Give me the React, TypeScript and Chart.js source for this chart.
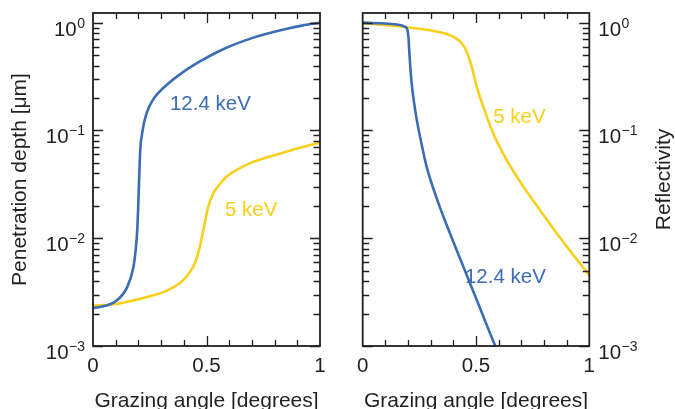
import { useEffect, useRef } from 'react';
import { Chart, registerables } from 'chart.js';

Chart.register(...registerables);

const FONT = '"Liberation Sans", Arial, Helvetica, sans-serif';
const INK = '#231f20';
const BLUE = '#3b6cb4';
const YELLOW = '#f8d01c';

// Penetration depth [µm] against grazing angle [degrees]
const DEPTH_12_ANGLE = [0, 0.05, 0.1, 0.15, 0.178, 0.188, 0.195, 0.2, 0.204, 0.207, 0.21, 0.215, 0.222, 0.232, 0.244, 0.26, 0.28, 0.324, 0.398, 0.471, 0.55, 0.618, 0.7, 0.765, 0.85, 0.92, 1.0];
const DEPTH_12 = [0.00225, 0.00235, 0.0026, 0.0035, 0.0054, 0.0078, 0.012, 0.022, 0.04, 0.058, 0.0748, 0.0895, 0.11, 0.135, 0.16, 0.186, 0.2135, 0.264, 0.349, 0.436, 0.537, 0.622, 0.718, 0.789, 0.874, 0.938, 1.0];

const DEPTH_5_ANGLE = [0, 0.1, 0.178, 0.25, 0.324, 0.398, 0.449, 0.471, 0.489, 0.508, 0.53, 0.56, 0.589, 0.647, 0.7, 0.765, 0.84, 0.912, 1.0];
const DEPTH_5 = [0.00237, 0.00245, 0.00265, 0.0029, 0.00325, 0.0041, 0.0059, 0.0084, 0.0128, 0.0196, 0.0261, 0.032, 0.0373, 0.0446, 0.0505, 0.056, 0.0625, 0.069, 0.077];

// Reflectivity against grazing angle [degrees]
const REFL_12_ANGLE = [0, 0.08, 0.15, 0.185, 0.197, 0.202, 0.206, 0.21, 0.216, 0.225, 0.236, 0.25, 0.282, 0.329, 0.385, 0.444, 0.503, 0.562, 0.585];
const REFL_12 = [1.0, 0.985, 0.96, 0.92, 0.86, 0.72, 0.52, 0.39, 0.274, 0.192, 0.135, 0.094, 0.0461, 0.0227, 0.0111, 0.00545, 0.00268, 0.00131, 0.001];

const REFL_5_ANGLE = [0, 0.194, 0.341, 0.4, 0.437, 0.459, 0.481, 0.503, 0.532, 0.576, 0.635, 0.709, 0.782, 0.856, 0.929, 1.0];
const REFL_5 = [0.985, 0.906, 0.815, 0.74, 0.644, 0.538, 0.391, 0.255, 0.166, 0.094, 0.0532, 0.0301, 0.0183, 0.0111, 0.007, 0.00455];

// Axis ticks
const X_TICKS = [0, 0.5, 1];
const X_TICK_LABELS = ['0', '0.5', '1'];
const Y_TICKS = [1, 0.1, 0.01, 0.001];
const Y_TICK_EXPONENTS = ['0', '\u22121', '\u22122', '\u22123'];

const X_TITLE = 'Grazing angle [degrees]';

type CurveLabel = { text: string; x: number; y: number; color: string };

type PanelSpec = {
  width: number;
  padding: { left: number; right: number; top: number; bottom: number };
  side: 'left' | 'right';
  yTitle: string;
  yTitleX: number;
  series: { x: number[]; y: number[]; color: string }[];
  labels: CurveLabel[];
};

const pairs = (xs: number[], ys: number[]) => xs.map((x, i) => ({ x, y: ys[i] }));

const framePlugin = (spec: PanelSpec) => ({
  id: 'frame-' + spec.side,
  afterDraw(chart: any) {
    const { ctx, chartArea: a, scales } = chart;
    const xs = scales.x;
    const ys = scales.y;
    ctx.save();

    // inward ticks: decades with 2..9 minors on the vertical sides
    ctx.strokeStyle = INK;
    ctx.lineWidth = 1.3;
    ctx.beginPath();
    for (let d = -3; d <= 0; d++) {
      for (let m = 1; m <= 9; m++) {
        const v = m * Math.pow(10, d);
        if (v > ys.max) continue;
        const py = Math.round(ys.getPixelForValue(v)) + 0.5;
        const len = m === 1 ? 10 : 6.5;
        ctx.moveTo(a.left, py);
        ctx.lineTo(a.left + len, py);
        ctx.moveTo(a.right, py);
        ctx.lineTo(a.right - len, py);
      }
    }
    for (let i = 1; i < 10; i++) {
      const px = Math.round(xs.getPixelForValue(i / 10)) + 0.5;
      const len = i === 5 ? 10 : 6;
      ctx.moveTo(px, a.bottom);
      ctx.lineTo(px, a.bottom - len);
      ctx.moveTo(px, a.top);
      ctx.lineTo(px, a.top + len);
    }
    ctx.stroke();

    // frame
    ctx.lineWidth = 1.8;
    ctx.strokeRect(a.left, a.top, a.right - a.left, a.bottom - a.top);

    ctx.fillStyle = INK;

    // x tick labels
    ctx.font = `20.5px ${FONT}`;
    ctx.textAlign = 'center';
    ctx.textBaseline = 'alphabetic';
    X_TICKS.forEach((v, i) => {
      ctx.fillText(X_TICK_LABELS[i], xs.getPixelForValue(v), a.bottom + 26);
    });

    // y tick labels as 10 with a raised exponent
    Y_TICKS.forEach((v, i) => {
      const py = ys.getPixelForValue(v);
      ctx.font = `14px ${FONT}`;
      const sup = Y_TICK_EXPONENTS[i];
      const supW = ctx.measureText(sup).width;
      ctx.font = `20.5px ${FONT}`;
      const baseW = ctx.measureText('10').width;
      const x0 = spec.side === 'left' ? a.left - 8 - supW - baseW - 0.5 : a.right + 9;
      ctx.textAlign = 'left';
      ctx.fillText('10', x0, py + 13);
      ctx.font = `14px ${FONT}`;
      ctx.fillText(sup, x0 + baseW + 0.5, py + 5);
    });

    // axis titles
    ctx.font = `21px ${FONT}`;
    ctx.textAlign = 'center';
    ctx.fillText(X_TITLE, (a.left + a.right) / 2, 406.5);
    ctx.save();
    ctx.translate(spec.yTitleX, (a.top + a.bottom) / 2);
    ctx.rotate(-Math.PI / 2);
    ctx.textBaseline = 'middle';
    ctx.fillText(spec.yTitle, 0, 0);
    ctx.restore();

    // curve labels
    ctx.font = `20.5px ${FONT}`;
    ctx.textAlign = 'left';
    ctx.textBaseline = 'middle';
    spec.labels.forEach((l) => {
      ctx.fillStyle = l.color;
      ctx.fillText(l.text, xs.getPixelForValue(l.x), ys.getPixelForValue(l.y));
    });

    ctx.restore();
  },
});

function Panel({ spec, left }: { spec: PanelSpec; left: number }) {
  const ref = useRef<HTMLCanvasElement | null>(null);

  useEffect(() => {
    if (!ref.current) return;
    const chart = new Chart(ref.current, {
      type: 'line',
      data: {
        datasets: spec.series.map((s) => ({
          data: pairs(s.x, s.y),
          borderColor: s.color,
          borderWidth: 2.6,
          pointRadius: 0,
          fill: false,
          cubicInterpolationMode: 'monotone' as const,
        })),
      },
      options: {
        animation: false,
        responsive: false,
        events: [],
        layout: { padding: spec.padding },
        plugins: { legend: { display: false }, tooltip: { enabled: false } },
        scales: {
          x: { type: 'linear', min: 0, max: 1, display: false },
          y: { type: 'logarithmic', min: 0.001, max: 1.228, display: false },
        },
      },
      plugins: [framePlugin(spec)],
    });
    return () => chart.destroy();
  }, [spec]);

  return (
    <canvas
      ref={ref}
      width={spec.width}
      height={409}
      style={{ position: 'absolute', left, top: 0, width: spec.width, height: 409 }}
    />
  );
}

const DEPTH_PANEL: PanelSpec = {
  width: 340,
  padding: { left: 93, right: 20, top: 13, bottom: 63 },
  side: 'left',
  yTitle: 'Penetration depth [\u03bcm]',
  yTitleX: 20,
  series: [
    { x: DEPTH_12_ANGLE, y: DEPTH_12, color: BLUE },
    { x: DEPTH_5_ANGLE, y: DEPTH_5, color: YELLOW },
  ],
  labels: [
    { text: '12.4 keV', x: 0.339, y: 0.176, color: BLUE },
    { text: '5 keV', x: 0.581, y: 0.018, color: YELLOW },
  ],
};

const REFL_PANEL: PanelSpec = {
  width: 335,
  padding: { left: 22.7, right: 85.7, top: 13, bottom: 63 },
  side: 'right',
  yTitle: 'Reflectivity',
  yTitleX: 324,
  series: [
    { x: REFL_12_ANGLE, y: REFL_12, color: BLUE },
    { x: REFL_5_ANGLE, y: REFL_5, color: YELLOW },
  ],
  labels: [
    { text: '5 keV', x: 0.576, y: 0.132, color: YELLOW },
    { text: '12.4 keV', x: 0.451, y: 0.0043, color: BLUE },
  ],
};

export default function App() {
  return (
    <div style={{ position: 'absolute', left: 0, top: 0, width: 675, height: 409, background: '#fff' }}>
      <Panel spec={DEPTH_PANEL} left={0} />
      <Panel spec={REFL_PANEL} left={340} />
    </div>
  );
}
